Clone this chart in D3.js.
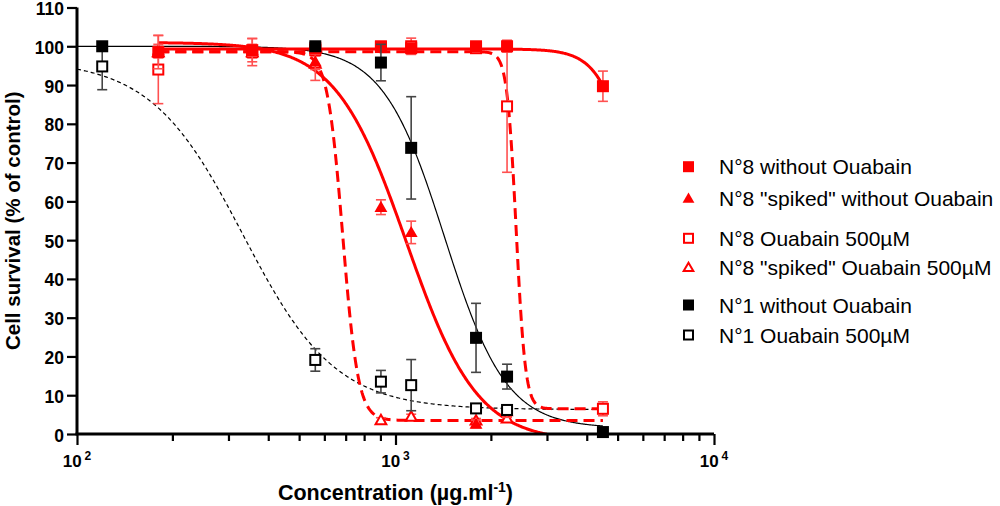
<!DOCTYPE html>
<html><head><meta charset="utf-8">
<script src="https://cdn.jsdelivr.net/npm/d3@7"></script>
<style>
body{margin:0;background:#fff;}
svg{font-family:"Liberation Sans",Arial,sans-serif;}
</style></head>
<body><svg id="c" width="1000" height="506"></svg>
<script>
// ---- data ----
const yTicks = [0,10,20,30,40,50,60,70,80,90,100,110];
const xDecades = [100,1000,10000];
const xTickExponents = ["2","3","4"];

const n8WithoutX = [180,355,560,900,1120,1790,2240,4480];
const n8WithoutY = [98.5,99,99.5,100,99.5,100,100,89.7];
const n8WithoutErr = [4.3,3,1,1,1,0.8,1.5,3.9];

const n8SpikedWithoutX = [180,355,560,900,1120,1790,2240];
const n8SpikedWithoutY = [99,99,96,58.5,52,2.6,5.8];
const n8SpikedWithoutErr = [1.5,1.5,2,1.9,2.9,1,1.5];

const n8OuabainX = [180,355,560,900,1120,1790,2240,4480];
const n8OuabainY = [94,98.5,99,99.8,100,99.5,84.5,6.5];
const n8OuabainErr = [8.8,3.5,1.5,1,2.1,1,17,1.8];

const n8SpikedOuabainX = [180,355,560,900,1120,1790,2240];
const n8SpikedOuabainY = [98.5,98.5,95.5,3.6,4.5,3.5,4];
const n8SpikedOuabainErr = [1.5,1.5,4.3,0.6,0.6,0.5,0.5];

const n1WithoutX = [120,560,900,1120,1790,2240,4480];
const n1WithoutY = [100,100,95.8,73.8,24.8,14.8,0.5];
const n1WithoutErr = [0.5,0.5,4.7,13.2,8.9,3.2,0.3];

const n1OuabainX = [120,560,900,1120,1790,2240];
const n1OuabainY = [94.8,19.1,13.5,12.6,6.6,6.2];
const n1OuabainErr = [6,2.9,2.9,6.6,0.6,1];

// fitted dose-response parameters (top, bottom, IC50, Hill slope, x-range)
const fitTop    = [99.3, 101, 98.6, 98.6, 100, 96.5];
const fitBottom = [0, -2, 6.5, 3.5, 1.5, 6.3];
const fitIC50   = [5930, 1082, 2393, 683, 1426, 332];
const fitHill   = [8, 3.9, 30, 18, 4.5, 3];
const fitFrom   = [180, 180, 180, 180, 100, 100];
const fitTo     = [4480, 4480, 4480, 4480, 4480, 4480];

const legendLabels = ['N°8 without Ouabain','N°8 "spiked" without Ouabain','N°8 Ouabain 500µM','N°8 "spiked" Ouabain 500µM','N°1 without Ouabain','N°1 Ouabain 500µM'];

// ---- drawing ----
const svg = d3.select('#c');
const L=77, R=714, T=7.5, B=434;
const x = d3.scaleLog().domain([100,10000]).range([L,R]);
const y = d3.scaleLinear().domain([0,110]).range([B,T]);

const styles = [
  {color:'#ff0000', err:'#ff5050', shape:'square', fill:true,  dash:null,   w:3},
  {color:'#ff0000', err:'#ff5050', shape:'tri',    fill:true,  dash:null,   w:3},
  {color:'#ff0000', err:'#ff5050', shape:'square', fill:false, dash:'11,6', w:3},
  {color:'#ff0000', err:'#ff5050', shape:'tri',    fill:false, dash:'11,6', w:3},
  {color:'#000000', err:'#444444', shape:'square', fill:true,  dash:null,   w:1.2},
  {color:'#000000', err:'#444444', shape:'square', fill:false, dash:'4,3',  w:1.2}
];
const series = [
  [n8WithoutX,n8WithoutY,n8WithoutErr],
  [n8SpikedWithoutX,n8SpikedWithoutY,n8SpikedWithoutErr],
  [n8OuabainX,n8OuabainY,n8OuabainErr],
  [n8SpikedOuabainX,n8SpikedOuabainY,n8SpikedOuabainErr],
  [n1WithoutX,n1WithoutY,n1WithoutErr],
  [n1OuabainX,n1OuabainY,n1OuabainErr]
];

svg.append('defs').append('clipPath').attr('id','plotclip')
  .append('rect').attr('x',L).attr('y',0).attr('width',R-L+10).attr('height',B);

// curves
const curveG = svg.append('g').attr('clip-path','url(#plotclip)');
const line = d3.line().x(d=>x(d[0])).y(d=>y(d[1]));
const order = [5,4,0,1,2,3];
order.forEach(i=>{
  const lx0=Math.log10(fitFrom[i]), lx1=Math.log10(fitTo[i]);
  const pts=d3.range(0,601).map(k=>{
    const xv=Math.pow(10,lx0+(lx1-lx0)*k/600);
    return [xv, fitBottom[i]+(fitTop[i]-fitBottom[i])/(1+Math.pow(xv/fitIC50[i],fitHill[i]))];
  });
  const st=styles[i];
  curveG.append('path').attr('d',line(pts)).attr('fill','none')
    .attr('stroke',st.color).attr('stroke-width',st.w)
    .attr('stroke-dasharray',st.dash);
});

// axes
const yAxis = d3.axisLeft(y).tickValues(yTicks).tickSize(10).tickPadding(3).tickFormat(d3.format('d'));
const gy = svg.append('g').attr('transform',`translate(${L},0)`).call(yAxis);
gy.select('.domain').attr('stroke-width',3).attr('d',`M0,${T}V${B}`);
gy.selectAll('.tick line').attr('stroke-width',2.2);
gy.selectAll('.tick text').attr('font-size',17.5).attr('font-weight','bold').attr('fill','#000')
  .attr('dy','0.4em').attr('font-family','"Liberation Sans",Arial,sans-serif');

const minor=[];
[100,1000].forEach(d=>{for(let k=2;k<=9;k++)minor.push(d*k);});
const xAxis = d3.axisBottom(x).tickValues(xDecades).tickSize(11).tickFormat('');
const gx = svg.append('g').attr('transform',`translate(0,${B})`).call(xAxis);
gx.select('.domain').attr('stroke-width',3).attr('d',`M${L-1.5},0H${R}`);
gx.selectAll('.tick line').attr('stroke-width',2.2);
gx.selectAll('.minor').data(minor).enter().append('line')
  .attr('x1',d=>x(d)).attr('x2',d=>x(d)).attr('y1',0).attr('y2',7)
  .attr('stroke','#000').attr('stroke-width',2.2);
xDecades.forEach((d,i)=>{
  const t=gx.append('text').attr('x',x(d)).attr('y',33).attr('text-anchor','middle')
    .attr('font-size',17).attr('font-weight','bold').attr('fill','#000');
  t.append('tspan').text('10');
  t.append('tspan').attr('dx',3).attr('dy',-7).attr('font-size',12).text(xTickExponents[i]);
});

// axis titles
const xt = svg.append('text').attr('x',(L+R)/2).attr('y',500).attr('text-anchor','middle')
  .attr('font-size',21.5).attr('font-weight','bold').attr('fill','#000');
xt.append('tspan').text('Concentration (µg.ml');
xt.append('tspan').attr('dy',-8).attr('font-size',14).text('-1');
xt.append('tspan').attr('dy',8).text(')');

svg.append('text').attr('transform',`translate(19.5,${(T+B)/2}) rotate(-90)`)
  .attr('text-anchor','middle').attr('font-size',20.5).attr('font-weight','bold').attr('fill','#000')
  .text('Cell survival (% of control)');

// markers
function drawMarker(g, cx, cy, st, size){
  if(st.shape==='square'){
    const s = st.fill ? size : size-2;
    g.append('rect').attr('x',cx-s/2).attr('y',cy-s/2).attr('width',s).attr('height',s)
      .attr('fill',st.fill?st.color:'#fff').attr('stroke',st.color).attr('stroke-width',st.fill?0:2);
  } else {
    const a = st.fill ? size*size*0.5 : (size-2)*(size-2)*0.5;
    g.append('path').attr('transform',`translate(${cx},${cy+1})`)
      .attr('d',d3.symbol(d3.symbolTriangle,a)())
      .attr('fill',st.fill?st.color:'#fff').attr('stroke',st.color).attr('stroke-width',st.fill?0:2);
  }
}

const ptsG = svg.append('g');
[3,2,1,0,5,4].forEach(i=>{
  const [xs,ys,es]=series[i]; const st=styles[i];
  const g=ptsG.append('g');
  xs.forEach((xv,k)=>{
    const cx=x(xv), y1=y(ys[k]+es[k]), y0=y(ys[k]-es[k]);
    g.append('line').attr('x1',cx).attr('x2',cx).attr('y1',y1).attr('y2',y0)
      .attr('stroke',st.err).attr('stroke-width',1.6);
    [y1,y0].forEach(yy=>g.append('line').attr('x1',cx-5).attr('x2',cx+5).attr('y1',yy).attr('y2',yy)
      .attr('stroke',st.err).attr('stroke-width',1.6));
  });
  xs.forEach((xv,k)=>drawMarker(g,x(xv),y(ys[k]),st,12));
});

// legend
const legendY=[166.7,198.3,238.3,267.3,305,335];
const lg=svg.append('g');
legendLabels.forEach((lab,i)=>{
  drawMarker(lg,688.5,legendY[i],styles[i],11);
  lg.append('text').attr('x',719).attr('y',legendY[i]+7.5).attr('font-size',21)
    .attr('fill','#000').text(lab);
});
</script></body></html>
